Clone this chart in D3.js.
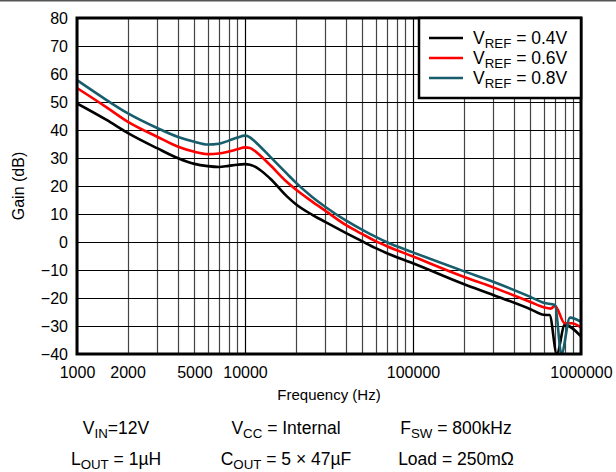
<!DOCTYPE html>
<html>
<head>
<meta charset="utf-8">
<script src="https://cdn.jsdelivr.net/npm/d3@7"></script>
<style>
  body { margin: 0; background: #fff; }
  svg { display: block; font-family: "Liberation Sans", Arial, sans-serif; }
</style>
</head>
<body>
<svg id="chart"></svg>
<script>

// DATA
const seriesNames = ["0.4V", "0.6V", "0.8V"];
const seriesColors = ["#000000", "#ff0000", "#175d6c"];

const freq04 = [1000, 1500, 2000, 3000, 4000, 5000, 6000, 7000, 8000, 9000, 10000, 10700, 11200, 14100, 17700, 20000, 25000, 30000, 40000, 50000, 60000, 70000, 100000, 200000, 300000, 500000, 600000, 650000, 718000, 800000, 1000000];
const gain04 = [49.5, 43.6, 39, 33.5, 29.9, 27.9, 27.1, 26.8, 27.2, 27.6, 27.8, 27.6, 27.2, 22.7, 16.4, 13.6, 9.8, 7.2, 3.2, 0.2, -2.2, -4, -7.6, -15, -18.9, -24, -26, -26.1, -40, -29.6, -33.7];

const freq06 = [1000, 1500, 2000, 3000, 4000, 5000, 6000, 7000, 8000, 9000, 10000, 10700, 11200, 14100, 17700, 20000, 25000, 30000, 40000, 50000, 60000, 70000, 100000, 200000, 300000, 500000, 600000, 660000, 700000, 800000, 880000, 1000000];
const gain06 = [55, 48.1, 43, 37.6, 34, 32.2, 31.4, 31.6, 32.3, 33.1, 33.8, 33.6, 32.9, 27.5, 21.5, 18.8, 14.5, 11.2, 6, 2.8, 0.3, -1.5, -5.2, -12.4, -16.2, -21.4, -23.3, -23.8, -22.8, -29, -29, -30.5];

const freq08 = [1000, 1500, 2000, 3000, 4000, 5000, 6000, 7000, 8000, 9000, 10000, 10700, 11200, 14100, 17700, 20000, 25000, 30000, 40000, 50000, 60000, 70000, 100000, 200000, 300000, 500000, 600000, 700000, 765000, 860000, 1000000];
const gain08 = [57.8, 50.7, 46, 40.7, 37.5, 35.8, 34.8, 35.1, 36.2, 37.3, 38, 37.4, 36.4, 30.5, 24.5, 21.3, 16.2, 12.6, 7.6, 4.3, 1.8, -0.1, -3.7, -10.4, -14.2, -19.6, -21.7, -22.5, -40, -27, -28.5];

const xTickLabels = [1000, 2000, 5000, 10000, 100000, 1000000];
const yTicks = [-40, -30, -20, -10, 0, 10, 20, 30, 40, 50, 60, 70, 80];

// condition lines under the chart: [text, isSubscript] pieces
const noteRow1 = [
    [["V", false], ["IN", true], ["=12V", false]],
    [["V", false], ["CC", true], [" = Internal", false]],
    [["F", false], ["SW", true], [" = 800kHz", false]]
];
const noteRow2 = [
    [["L", false], ["OUT", true], [" = 1µH", false]],
    [["C", false], ["OUT", true], [" = 5 × 47µF", false]],
    [["Load = 250mΩ", false]]
];


// SVG SETUP
const wsvg = 616;
const hsvg = 472;

const plotLeft = 77, plotRight = 581, plotTop = 18, plotBottom = 354;

const svg = d3.select("#chart")
    .attr("width", wsvg)
    .attr("height", hsvg)
    .attr("viewBox", `0 0 ${wsvg} ${hsvg}`);

const xScale = d3.scaleLog([1000, 1000000], [plotLeft, plotRight]);
const yScale = d3.scaleLinear([-40, 80], [plotBottom, plotTop]);

// thin rule across the very top of the figure
svg.append("line")
    .attr("x1", 0).attr("x2", wsvg)
    .attr("y1", 0.75).attr("y2", 0.75)
    .attr("stroke", "#555")
    .attr("stroke-width", 1.5);

// grid
const gridFreqs = [];
[1000, 10000, 100000].forEach(dec => {
    for (let m = 1; m <= 9; m++) gridFreqs.push(dec * m);
});
gridFreqs.push(1000000);

svg.append("g")
    .selectAll("line")
    .data(gridFreqs)
    .join("line")
    .attr("x1", d => Math.round(xScale(d)) + 0.5)
    .attr("x2", d => Math.round(xScale(d)) + 0.5)
    .attr("y1", plotTop)
    .attr("y2", plotBottom)
    .attr("stroke", d => [1000, 10000, 100000, 1000000].includes(d) ? "#000" : "#444")
    .attr("stroke-width", 1.2);

svg.append("g")
    .selectAll("line")
    .data(yTicks)
    .join("line")
    .attr("x1", plotLeft)
    .attr("x2", plotRight)
    .attr("y1", d => Math.round(yScale(d)) + 0.5)
    .attr("y2", d => Math.round(yScale(d)) + 0.5)
    .attr("stroke", "#000")
    .attr("stroke-width", 1.2);

// axes (labels only, the frame is drawn separately)
const yAxis = d3.axisLeft(yScale).tickValues(yTicks).tickSize(0).tickPadding(9);
const yAxisG = svg.append("g")
    .attr("transform", `translate(${plotLeft}, 0)`)
    .call(yAxis);

const xAxis = d3.axisBottom(xScale).tickValues(xTickLabels).tickFormat(d3.format("d")).tickSize(0).tickPadding(13);
const xAxisG = svg.append("g")
    .attr("transform", `translate(0, ${plotBottom})`)
    .call(xAxis);

[yAxisG, xAxisG].forEach(g => {
    g.select(".domain").remove();
    g.selectAll("text")
        .attr("font-family", "'Liberation Sans', Arial, sans-serif")
        .attr("font-size", 16)
        .attr("fill", "#000");
});

// curves
const line = d3.line()
    .x(d => xScale(d[0]))
    .y(d => yScale(d[1]))
    .curve(d3.curveMonotoneX);

const allSeries = [
    d3.zip(freq04, gain04),
    d3.zip(freq06, gain06),
    d3.zip(freq08, gain08)
];

svg.append("defs").append("clipPath")
    .attr("id", "plotClip")
    .append("rect")
    .attr("x", plotLeft).attr("y", plotTop)
    .attr("width", plotRight - plotLeft).attr("height", plotBottom - plotTop);

svg.append("g")
    .attr("clip-path", "url(#plotClip)")
    .selectAll("path")
    .data(allSeries)
    .join("path")
    .attr("d", line)
    .attr("fill", "none")
    .attr("stroke", (d, i) => seriesColors[i])
    .attr("stroke-width", 2.6)
    .attr("stroke-linejoin", "round");

// plot frame
svg.append("rect")
    .attr("x", plotLeft).attr("y", plotTop)
    .attr("width", plotRight - plotLeft).attr("height", plotBottom - plotTop)
    .attr("fill", "none")
    .attr("stroke", "#000")
    .attr("stroke-width", 3);

// text with subscripts
function subText(parent, x, y, parts, size, anchor) {
    const t = parent.append("text")
        .attr("x", x)
        .attr("y", y)
        .attr("font-size", size)
        .attr("text-anchor", anchor)
        .attr("fill", "#000");
    let down = false;
    parts.forEach(([str, isSub]) => {
        const s = t.append("tspan").text(str);
        if (isSub && !down) {
            s.attr("font-size", size * 0.76).attr("dy", size * 0.22);
            down = true;
        } else if (!isSub && down) {
            s.attr("dy", -size * 0.22);
            down = false;
        }
    });
    return t;
}

// LEGEND
const legend = svg.append("g");
legend.append("rect")
    .attr("x", 419).attr("y", plotTop)
    .attr("width", plotRight - 419).attr("height", 80)
    .attr("fill", "#fff")
    .attr("stroke", "#000")
    .attr("stroke-width", 2.5);

seriesNames.forEach((name, i) => {
    const ly = 38 + i * 20;
    legend.append("line")
        .attr("x1", 429).attr("x2", 463)
        .attr("y1", ly).attr("y2", ly)
        .attr("stroke", seriesColors[i])
        .attr("stroke-width", 2.6);
    subText(legend, 473, ly + 6, [["V", false], ["REF", true], [" = " + name, false]], 17.5, "start");
});

// axis titles
svg.append("text")
    .attr("x", (plotLeft + plotRight) / 2)
    .attr("y", 400)
    .attr("text-anchor", "middle")
    .attr("font-size", 15)
    .text("Frequency (Hz)");

svg.append("text")
    .attr("transform", `translate(24, ${(plotTop + plotBottom) / 2}) rotate(-90)`)
    .attr("text-anchor", "middle")
    .attr("font-size", 16)
    .text("Gain (dB)");

// test conditions
const noteX = [116, 286, 456];
noteRow1.forEach((parts, i) => subText(svg, noteX[i], 434, parts, 17.5, "middle"));
noteRow2.forEach((parts, i) => subText(svg, noteX[i], 465, parts, 17.5, "middle"));

</script>
</body>
</html>
